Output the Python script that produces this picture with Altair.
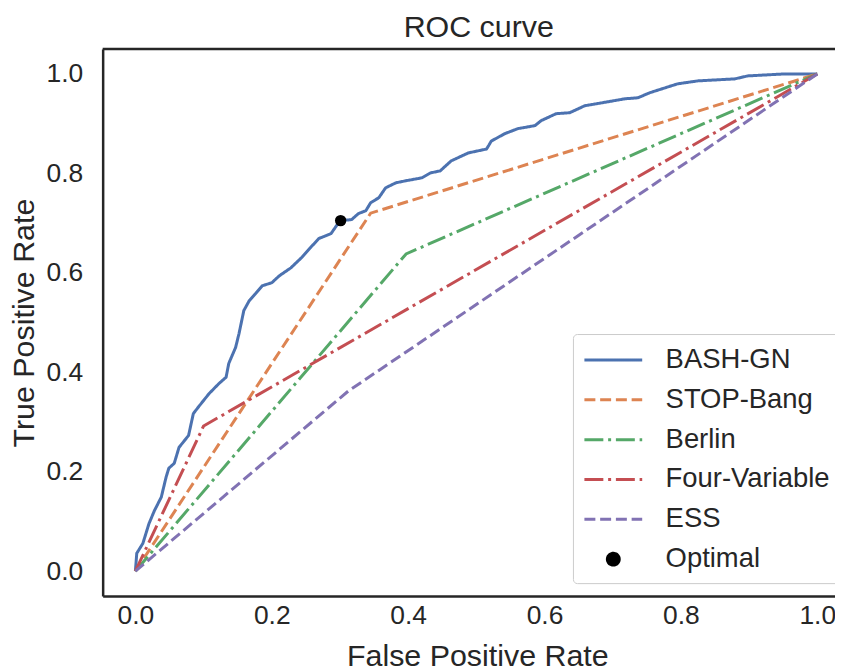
import altair as alt
import pandas as pd

# ---------------- data ----------------
series_names = ["BASH-GN", "STOP-Bang", "Berlin", "Four-Variable", "ESS"]
legend_names = series_names + ["Optimal"]
series_colors = ["#4c72b0", "#dd8452", "#55a868", "#c44e52", "#8172b3", "#000000"]
series_dashes = [[1, 0], [11, 4.8], [19, 4.8, 3, 4.8], [19, 4.8, 3, 4.8], [11, 4.8], [1, 0]]

bash_fpr = [0.0, 0.002, 0.011, 0.020, 0.028, 0.038, 0.045, 0.049, 0.057, 0.064,
            0.078, 0.085, 0.094, 0.108, 0.123, 0.133, 0.137, 0.147, 0.152, 0.159,
            0.167, 0.176, 0.186, 0.200, 0.211, 0.228, 0.244, 0.257, 0.269, 0.287,
            0.295, 0.301, 0.317, 0.327, 0.338, 0.345, 0.357, 0.367, 0.382, 0.396,
            0.420, 0.433, 0.447, 0.463, 0.488, 0.515, 0.522, 0.542, 0.561, 0.586,
            0.595, 0.617, 0.637, 0.659, 0.693, 0.718, 0.737, 0.754, 0.795, 0.825,
            0.879, 0.898, 0.952, 1.0]
bash_tpr = [0.0, 0.036, 0.056, 0.096, 0.122, 0.149, 0.189, 0.207, 0.217, 0.249,
            0.273, 0.317, 0.333, 0.357, 0.378, 0.390, 0.418, 0.450, 0.478, 0.524,
            0.544, 0.558, 0.574, 0.580, 0.594, 0.610, 0.631, 0.651, 0.669, 0.679,
            0.695, 0.705, 0.707, 0.719, 0.725, 0.741, 0.751, 0.771, 0.781, 0.785,
            0.791, 0.801, 0.805, 0.825, 0.841, 0.849, 0.865, 0.880, 0.890, 0.896,
            0.906, 0.920, 0.922, 0.936, 0.944, 0.950, 0.952, 0.962, 0.980, 0.986,
            0.990, 0.996, 1.000, 1.0]
stop_fpr = [0.0, 0.345, 1.0]
stop_tpr = [0.0, 0.720, 1.0]
berlin_fpr = [0.0, 0.397, 1.0]
berlin_tpr = [0.0, 0.638, 1.0]
four_fpr = [0.0, 0.100, 1.0]
four_tpr = [0.0, 0.292, 1.0]
ess_fpr = [0.0, 0.312, 1.0]
ess_tpr = [0.0, 0.362, 1.0]
optimal_fpr = [0.301]
optimal_tpr = [0.705]

x_ticks = [0.0, 0.2, 0.4, 0.6, 0.8, 1.0]
y_ticks = [0.0, 0.2, 0.4, 0.6, 0.8, 1.0]

# ---------------- tables ----------------
rows = []
for name, fx, fy in zip(series_names,
                        [bash_fpr, stop_fpr, berlin_fpr, four_fpr, ess_fpr],
                        [bash_tpr, stop_tpr, berlin_tpr, four_tpr, ess_tpr]):
    for i, (a, b) in enumerate(zip(fx, fy)):
        rows.append({"series": name, "fpr": a, "tpr": b, "idx": i})
curves = pd.DataFrame(rows)
optimal = pd.DataFrame({"fpr": optimal_fpr, "tpr": optimal_tpr})

FONT = "Liberation Sans"
INK = "#262626"
W, H = 735, 549

xscale = alt.Scale(domain=[-0.048, 1.026], nice=False, zero=False)
yscale = alt.Scale(domain=[-0.05, 1.05], nice=False, zero=False)

# legend glyphs: a long line sample, and a small dot centred on the same spot
LINE_GLYPH = "M-1,0H3"
DOT_GLYPH = "M1.41,0A0.41,0.41 0 1,1 0.59,0A0.41,0.41 0 1,1 1.41,0Z"

legend = alt.Legend(
    title=None, orient="none", legendX=472, legendY=286,
    symbolType=alt.ExprRef(f"datum.value === 'Optimal' ? '{DOT_GLYPH}' : '{LINE_GLYPH}'"),
    symbolSize=841,
    symbolFillColor=alt.ExprRef("datum.value === 'Optimal' ? 'black' : 'transparent'"),
    symbolStrokeWidth=3,
    labelFontSize=27.5, labelFont=FONT, labelColor=INK, labelOffset=51, labelLimit=400,
    padding=10, rowPadding=10,
    strokeColor="#cccccc", fillColor="white", cornerRadius=4,
)

lines = alt.Chart(curves).mark_line(strokeWidth=3, strokeCap="butt").encode(
    x=alt.X("fpr:Q", scale=xscale,
            axis=alt.Axis(title="False Positive Rate", values=x_ticks, format=".1f",
                          titleX=376)),
    y=alt.Y("tpr:Q", scale=yscale,
            axis=alt.Axis(title="True Positive Rate", values=y_ticks, format=".1f")),
    color=alt.Color("series:N", scale=alt.Scale(domain=legend_names, range=series_colors),
                    legend=legend),
    strokeDash=alt.StrokeDash("series:N", scale=alt.Scale(domain=legend_names, range=series_dashes),
                              legend=legend),
    order="idx:Q",
)

points = alt.Chart(optimal).mark_circle(size=130, opacity=1, color="black").encode(
    x=alt.X("fpr:Q", scale=xscale),
    y=alt.Y("tpr:Q", scale=yscale),
)

top_rule = alt.Chart(pd.DataFrame({"a": [0]})).mark_rule(color=INK, strokeWidth=2.5).encode(
    x=alt.value(0), x2=alt.value(W), y=alt.value(0)
)

chart = alt.layer(lines, points, top_rule).properties(
    width=W, height=H,
    title=alt.TitleParams("ROC curve", fontSize=30.5, font=FONT, color=INK,
                          fontWeight="normal", offset=4, dx=10),
    padding={"left": 95, "top": 40, "right": 0, "bottom": 74},
    autosize=alt.AutoSizeParams(type="none"),
).configure_view(stroke=None).configure_axis(
    domainColor=INK, domainWidth=2.5, ticks=False, grid=False,
    labelFontSize=26.5, labelFont=FONT, labelColor=INK,
    titleFontSize=30.5, titleFont=FONT, titleColor=INK, titleFontWeight="normal",
).configure_axisY(labelPadding=20, titlePadding=6.5).configure_axisX(labelPadding=7, titlePadding=12)

chart.save("out.html", embed_options={"renderer": "svg", "actions": False})
